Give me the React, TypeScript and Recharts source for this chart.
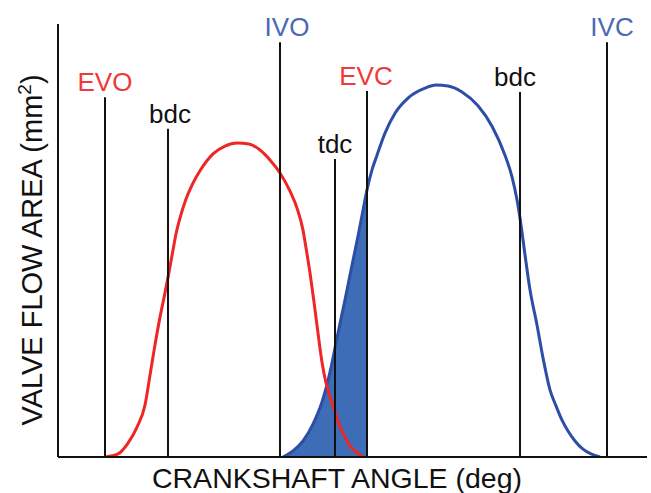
import React from 'react';
import { ComposedChart, Line, Area, XAxis, YAxis, ReferenceLine } from 'recharts';

// Exhaust valve flow area (red) — crank angle (deg) vs area (% of full scale)
const exhaustAngle = [130, 143, 153, 162, 170, 175, 180, 185, 190, 194, 198, 201, 205, 211, 217, 225, 238, 250, 262, 274, 285, 295, 305, 315, 322, 328, 331, 335, 339, 343, 347, 351, 355, 360, 365, 370, 375, 381, 388];
const exhaustArea = [0, 0.7, 3.2, 6.9, 12.0, 18.9, 25.9, 32.3, 37.9, 42.7, 47.8, 51.5, 55.2, 59.6, 62.8, 66.1, 70.0, 71.8, 72.5, 72.3, 70.9, 68.6, 65.6, 61.4, 57.5, 52.4, 48.3, 42.5, 35.8, 28.6, 21.9, 17.1, 13.9, 10.4, 6.9, 4.6, 2.5, 1.2, 0];

// Intake valve flow area (blue)
const intakeAngle = [308, 318, 328, 338, 347, 355, 362, 370, 377, 383, 388, 392, 397, 402, 410, 420, 433, 450, 461, 473, 487, 503, 517, 530, 537, 542, 546, 550, 555, 562, 568, 575, 581, 587, 593, 600, 608, 616, 625];
const intakeArea = [0, 1.4, 3.7, 7.6, 12.7, 19.6, 27.5, 36.3, 44.3, 51.0, 57.0, 61.7, 66.3, 69.7, 74.8, 79.4, 82.9, 85.2, 85.9, 85.7, 84.3, 81.1, 76.4, 69.7, 64.7, 59.4, 53.6, 46.7, 38.6, 30.5, 22.9, 15.5, 11.8, 8.5, 6.0, 3.7, 1.8, 0.7, 0];

// Valve events and reference positions
const eventLabels = ['EVO', 'bdc', 'IVO', 'tdc', 'EVC', 'bdc', 'IVC'];
const eventAngles = [130, 193, 305, 360, 392, 545, 632];
const eventHeights = [83.1, 75.8, 95.8, 68.8, 84.5, 84.3, 95.8];
const eventKinds = ['exhaust', 'dead', 'intake', 'dead', 'exhaust', 'dead', 'intake'];

const xTitle = 'CRANKSHAFT ANGLE (deg)';
const yTitle = 'VALVE FLOW AREA (mm';

// styles
const RED = '#ee2626';
const RED_TEXT = '#f03a3a';
const BLUE = '#2d4ea6';
const BLUE_TEXT = '#4a68b6';
const FILL = '#3d6db6';
const kindColor: Record<string, string> = { exhaust: RED_TEXT, intake: BLUE_TEXT, dead: '#111' };
const labelDx = [0, 2, 7, 0, -1, -5, 5];
const FONT = '"Liberation Sans", Arial, Helvetica, sans-serif';

const exhaustData = exhaustAngle.map((a, i) => ({ angle: a, area: exhaustArea[i] }));
const intakeData = intakeAngle.map((a, i) => ({ angle: a, area: intakeArea[i] }));
const overlapData = intakeData.filter((d) => d.angle >= eventAngles[2] && d.angle <= eventAngles[4]);

export default function App() {
  return (
    <div style={{ position: 'absolute', left: 0, top: 0, background: '#fff' }}>
      <ComposedChart width={651} height={493} margin={{ top: 24, right: 4, left: 0, bottom: 0 }}>
        <XAxis
          dataKey="angle"
          type="number"
          domain={[83, 672]}
          allowDataOverflow
          tick={false}
          tickLine={false}
          height={36}
          axisLine={{ stroke: '#111', strokeWidth: 2 }}
          label={(p: any) => (
            <text x={337} y={488} textAnchor="middle" fontFamily={FONT} fontSize={28.5} fill="#111">
              {xTitle}
            </text>
          )}
        />
        <YAxis
          type="number"
          domain={[0, 100]}
          allowDataOverflow
          tick={false}
          tickLine={false}
          width={58}
          axisLine={{ stroke: '#111', strokeWidth: 2 }}
          label={(p: any) => (
            <text
              x={42}
              y={250}
              transform="rotate(-90 42 250)"
              textAnchor="middle"
              fontFamily={FONT}
              fontSize={29}
              fill="#111"
            >
              {yTitle}
              <tspan dy={-11} fontSize={19}>2</tspan>
              <tspan dy={11}>)</tspan>
            </text>
          )}
        />
        <Area
          data={overlapData}
          dataKey="area"
          type="monotone"
          stroke="none"
          fill={FILL}
          fillOpacity={1}
          isAnimationActive={false}
        />
        <Line data={intakeData} dataKey="area" type="monotone" stroke={BLUE} strokeWidth={3} dot={false} isAnimationActive={false} />
        <Line data={exhaustData} dataKey="area" type="monotone" stroke={RED} strokeWidth={3} dot={false} isAnimationActive={false} />
        {eventAngles.map((a, i) => (
          <ReferenceLine
            key={i}
            segment={[{ x: a, y: 0 }, { x: a, y: eventHeights[i] }]}
            stroke="#111"
            strokeWidth={2}
            ifOverflow="visible"
            label={(p: any) => {
              const vb = p.viewBox || {};
              return (
                <text
                  x={vb.x + labelDx[i]}
                  y={vb.y - 6}
                  textAnchor="middle"
                  fontFamily={FONT}
                  fontSize={26}
                  fill={kindColor[eventKinds[i]]}
                >
                  {eventLabels[i]}
                </text>
              );
            }}
          />
        ))}
      </ComposedChart>
    </div>
  );
}
